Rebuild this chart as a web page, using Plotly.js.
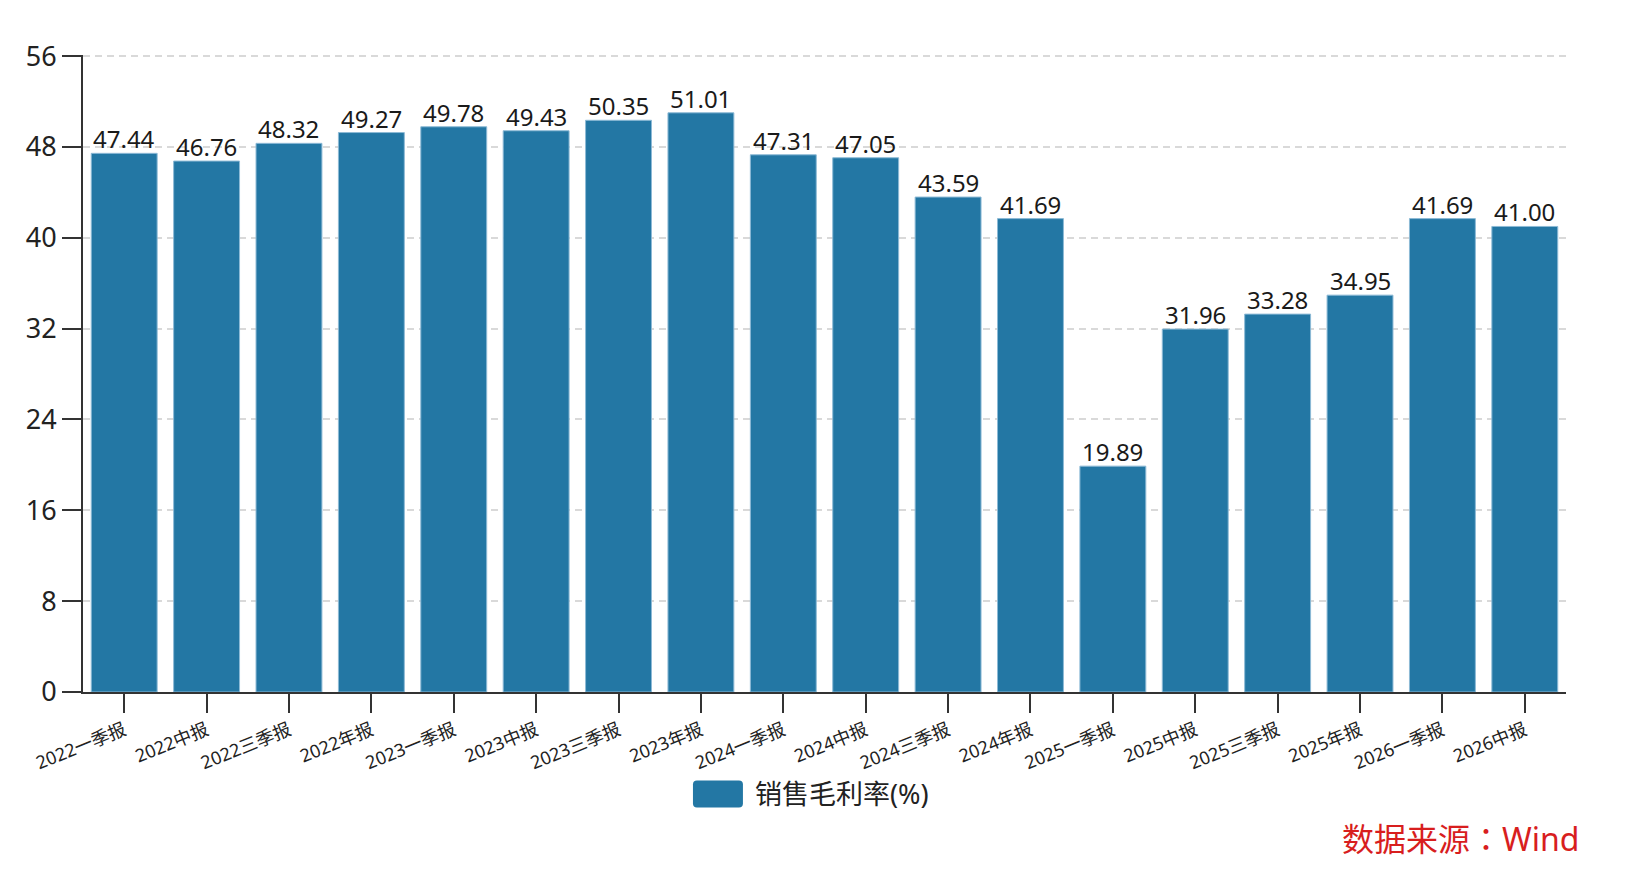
<!DOCTYPE html>
<html>
<head>
<meta charset="utf-8">
<script src="https://cdn.plot.ly/plotly-3.0.1.min.js"></script>
<style>
  body { margin: 0; background: #fff; }
  #chart { width: 1638px; height: 884px; }
</style>
</head>
<body>
<div id="chart"></div>
<script>
var periods = ['2022一季报', '2022中报', '2022三季报', '2022年报',
               '2023一季报', '2023中报', '2023三季报', '2023年报',
               '2024一季报', '2024中报', '2024三季报', '2024年报',
               '2025一季报', '2025中报', '2025三季报', '2025年报',
               '2026一季报', '2026中报'];
var grossMargin = [47.44, 46.76, 48.32, 49.27, 49.78, 49.43, 50.35, 51.01,
                   47.31, 47.05, 43.59, 41.69, 19.89, 31.96, 33.28, 34.95,
                   41.69, 41.00];
var seriesName = '销售毛利率(%)';
var yTicks = [0, 8, 16, 24, 32, 40, 48, 56];

// latin glyphs from Noto Sans, CJK falls back to Noto Sans CJK
var font = '"Noto Sans", "Noto Sans CJK SC", sans-serif';
var barColor = '#2377a4';

var trace = {
  x: periods,
  y: grossMargin,
  type: 'bar',
  name: seriesName,
  marker: {color: barColor, line: {color: '#8dbad6', width: 1}},
  hoverinfo: 'x+y'
};

// value labels sit right on top of each bar
var valueLabels = periods.map(function (p, i) {
  return {
    x: p, y: grossMargin[i],
    text: grossMargin[i].toFixed(2),
    xref: 'x', yref: 'y',
    yanchor: 'bottom', yshift: -4,
    showarrow: false,
    font: {family: font, size: 24, color: '#1a1a1a'}
  };
});

var layout = {
  width: 1638,
  height: 884,
  margin: {l: 83, r: 72, t: 55, b: 192},
  paper_bgcolor: '#ffffff',
  plot_bgcolor: '#ffffff',
  font: {family: font, color: '#222'},
  bargap: 0.2,
  showlegend: false,
  xaxis: {
    type: 'category',
    tickangle: -22,
    tickfont: {family: font, size: 18, color: '#222'},
    ticks: 'outside',
    ticklen: 19,
    tickwidth: 2,
    tickcolor: '#333',
    showline: true,
    linecolor: '#333',
    linewidth: 2,
    showgrid: false
  },
  yaxis: {
    range: [0, 56.1],
    tickvals: yTicks,
    ticks: 'outside',
    ticklen: 19,
    tickwidth: 2,
    tickcolor: '#333',
    tickfont: {family: font, size: 27, color: '#222'},
    showline: true,
    linecolor: '#333',
    linewidth: 2,
    showgrid: true,
    gridcolor: '#d9d9d9',
    gridwidth: 2,
    griddash: '7px,5px',
    zeroline: false
  },
  shapes: [{
    // rounded legend swatch
    type: 'path',
    xref: 'paper', yref: 'paper',
    path: 'M 0.4140,-0.1390 L 0.4423,-0.1390 Q 0.4450,-0.1390 0.4450,-0.1453 L 0.4450,-0.1752 Q 0.4450,-0.1815 0.4423,-0.1815 L 0.4140,-0.1815 Q 0.4113,-0.1815 0.4113,-0.1752 L 0.4113,-0.1453 Q 0.4113,-0.1390 0.4140,-0.1390 Z',
    fillcolor: barColor,
    line: {width: 0}
  }],
  annotations: valueLabels.concat([{
    text: seriesName,
    xref: 'paper', yref: 'paper',
    x: 0.4518, y: -0.1600,
    xanchor: 'left', yanchor: 'middle',
    showarrow: false,
    font: {family: font, size: 27, color: '#222'}
  }, {
    text: '数据来源：Wind',
    xref: 'paper', yref: 'paper',
    x: 1.010, y: -0.2300,
    xanchor: 'right', yanchor: 'middle',
    showarrow: false,
    font: {family: '"Noto Sans", "Noto Sans CJK TC", sans-serif', size: 32, color: '#d81e1e'}
  }])
};

Plotly.newPlot('chart', [trace], layout, {displayModeBar: false});
</script>
</body>
</html>
